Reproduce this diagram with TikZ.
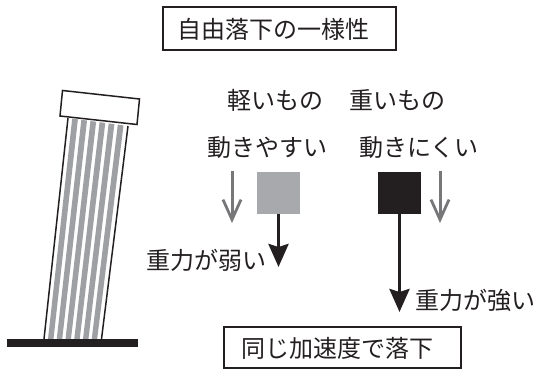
\documentclass[tikz,border=0pt]{standalone}
\usepackage{fontspec}
\newfontfamily\jpfont{Noto Sans CJK JP}
\usetikzlibrary{arrows.meta,calc}
\definecolor{inkblack}{HTML}{231F20}
\definecolor{lightgray}{HTML}{A7A9AC}
\definecolor{stripegray}{HTML}{9FA0A3}
\definecolor{hintgray}{HTML}{77777A}
\tikzset{
  jptext/.style={font=\jpfont\fontsize{24}{26}\selectfont, text=inkblack, inner sep=0pt},
  framebox/.style={draw=inkblack, line width=1.4pt, inner sep=0pt},
  weight/.style={minimum width=43pt, minimum height=42pt, inner sep=0pt},
  pull/.style={draw=inkblack, line width=3.4pt, -{Stealth[length=23pt, width=20pt, inset=3pt]}},
  hint/.style={draw=hintgray, line width=3pt, -{Straight Barb[length=20pt, width=18pt, line width=2.8pt]}},
  outline/.style={draw=inkblack, line width=1.5pt}
}
\begin{document}
\begin{tikzpicture}[x=1pt, y=-1pt]
  \useasboundingbox (0,0) rectangle (536,369);

  % title
  \node[framebox, minimum width=233pt, minimum height=43pt] (titlebox) at (279.5,28.5) {};
  \node[jptext] (title) at (273,29.5) {自由落下の一様性};

  % leaning tower: shaft corners
  \coordinate (TL) at (68,118);
  \coordinate (TR) at (128,126);
  \coordinate (BL) at (44,339);
  \coordinate (BR) at (101.5,339);
  \foreach \i in {0,...,5} {
    \pgfmathsetmacro{\fa}{0.07+\i*0.152}
    \pgfmathsetmacro{\fb}{\fa+0.095}
    \fill[stripegray] ($(TL)!\fa!(TR)$) -- ($(TL)!\fb!(TR)$) -- ($(BL)!\fb!(BR)$) -- ($(BL)!\fa!(BR)$) -- cycle;
  }
  \draw[outline] (TL) -- (BL);
  \draw[outline] (TR) -- (BR);
  % cap
  \filldraw[outline, fill=white] (62.5,90.5) -- (139.5,99) -- (137,124.5) -- (60,116) -- cycle;
  % base
  \fill[inkblack] (7,339) rectangle (138,347);

  % headings
  \node[jptext] (light) at (275,100) {軽いもの};
  \node[jptext] (heavy) at (397.5,100) {重いもの};
  \node[jptext] (lightmove) at (267.5,148) {動きやすい};
  \node[jptext] (heavymove) at (419,148) {動きにくい};

  % weights
  \node[weight, fill=lightgray] (lightsq) at (278.5,193) {};
  \node[weight, fill=inkblack] (heavysq) at (399.5,193) {};

  % gravity arrows
  \coordinate (lighttip) at (278.5,267);
  \coordinate (heavytip) at (399.5,312);
  \draw[pull] (lightsq.south) -- (lighttip);
  \draw[pull] (heavysq.south) -- (heavytip);

  % inertia hints
  \coordinate (hintLa) at (232,171);
  \coordinate (hintLb) at (232,223);
  \coordinate (hintRa) at (440,171);
  \coordinate (hintRb) at (440,223);
  \draw[hint] (hintLa) -- (hintLb);
  \draw[hint] (hintRa) -- (hintRb);

  % labels
  \node[jptext, anchor=east] (weak) at (267,260) {重力が弱い};
  \node[jptext, anchor=west] (strong) at (415,300) {重力が強い};

  % conclusion
  \node[framebox, minimum width=237pt, minimum height=41pt] (resultbox) at (342.5,347.5) {};
  \node[jptext] (result) at (337.5,348) {同じ加速度で落下};
\end{tikzpicture}
\end{document}
